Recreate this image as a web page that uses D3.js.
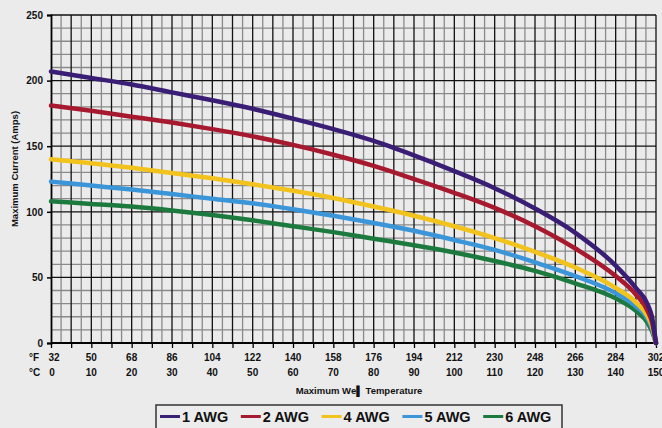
<!DOCTYPE html>
<html><head><meta charset="utf-8">
<script src="https://cdn.jsdelivr.net/npm/d3@7"></script>
<style>
html,body{margin:0;padding:0;background:#ebebeb;}
svg{display:block;font-family:"Liberation Sans",Arial,sans-serif;}
</style></head>
<body>
<svg id="c" width="662" height="428"></svg>
<script>
const tempC = [0,10,20,30,40,50,60,70,80,90,100,110,120,130,140,145,148,149,150];
const awg1 = [207,202,197,191,185,178.5,171,163,154,143,131,118,102.5,84,59,42,29,20,0];
const awg2 = [181,177,172.5,168,163,157.5,151,143.5,135,125,114.5,103,89,72,51,37,24,16,0];
const awg4 = [140,137,133.5,129.5,125.5,121,116,110.5,104,97,89,80,69.5,57.5,42,31,20,13,0];
const awg5 = [123,120,117,113.5,110,106.5,102,97,91.5,85.5,78.5,71,61.5,51,38,28,18,11,0];
const awg6 = [108,106,104,101,97.5,93.5,89,84.5,79.5,74.5,69,62.5,55,45.5,34,24.5,15,9,0];
const seriesNames = ["1 AWG","2 AWG","4 AWG","5 AWG","6 AWG"];
const seriesColors = ["#3a1d74","#a6192e","#f1c31c","#3b95d9","#1c7a3e"];
const fLabels = [32,50,68,86,104,122,140,158,176,194,212,230,248,266,284,302];
const cLabels = [0,10,20,30,40,50,60,70,80,90,100,110,120,130,140,150];
const yTicks = [0,50,100,150,200,250];

const svg = d3.select("#c");
const x = d3.scaleLinear().domain([0,150]).range([51,656]);
const y = d3.scaleLinear().domain([0,250]).range([343,15]);

const g = svg.append("g");
// minor grid
g.selectAll(".hmin").data(d3.range(0,251,10).filter(v=>v%50!==0)).join("line")
 .attr("x1",x(0)).attr("x2",x(150)).attr("y1",d=>y(d)).attr("y2",d=>y(d))
 .attr("stroke","#8a8a8a").attr("stroke-width",1.3);
g.selectAll(".vmin").data(d3.range(2.5,150,5)).join("line")
 .attr("x1",d=>x(d)).attr("x2",d=>x(d)).attr("y1",y(0)).attr("y2",y(250))
 .attr("stroke","#8a8a8a").attr("stroke-width",1.3);
// major grid
g.selectAll(".hmaj").data(yTicks).join("line")
 .attr("x1",x(0)).attr("x2",x(150)).attr("y1",d=>y(d)).attr("y2",d=>y(d))
 .attr("stroke","#111").attr("stroke-width",1.3);
g.selectAll(".vmaj").data(d3.range(5,151,5)).join("line")
 .attr("x1",d=>x(d)).attr("x2",d=>x(d)).attr("y1",y(0)).attr("y2",y(250))
 .attr("stroke","#111").attr("stroke-width",1.3);

// axes
const yAxis = d3.axisLeft(y).tickValues(yTicks).tickSize(4).tickPadding(4);
const ya = svg.append("g").attr("transform",`translate(${x(0)},0)`).call(yAxis);
ya.select(".domain").attr("stroke","#000").attr("stroke-width",1.8);
ya.selectAll(".tick line").attr("stroke","#000").attr("stroke-width",1.5);
ya.selectAll("text").attr("font-size",10).attr("font-weight","bold").attr("fill","#111");

const xAxis = d3.axisBottom(x).tickValues(d3.range(0,151,5)).tickSize(5).tickFormat("");
const xa = svg.append("g").attr("transform",`translate(0,${y(0)})`).call(xAxis);
xa.select(".domain").attr("stroke","#000").attr("stroke-width",2).attr("d",`M${x(0)},0H${x(150)}`);
xa.selectAll(".tick line").attr("stroke","#000").attr("stroke-width",1.3);

// tick labels rows
const lab = svg.append("g").attr("font-size",10).attr("font-weight","bold").attr("fill","#111");
lab.selectAll(".f").data(fLabels).join("text")
 .attr("x",(d,i)=>x(cLabels[i]) + (i===0?3:0)).attr("y",361).attr("text-anchor","middle").text(d=>d);
lab.selectAll(".c").data(cLabels).join("text")
 .attr("x",(d,i)=>x(d) + (i===0?1:0)).attr("y",376).attr("text-anchor","middle").text(d=>d);
lab.append("text").attr("x",29).attr("y",361).text("°F");
lab.append("text").attr("x",29).attr("y",376).text("°C");

svg.append("text").attr("x",359).attr("y",394).attr("text-anchor","middle")
 .attr("font-size",9.5).attr("font-weight","bold").attr("fill","#111").text("Maximum We\u258C Temperature");
svg.append("text").attr("transform","translate(18,169) rotate(-90)").attr("text-anchor","middle")
 .attr("font-size",9.5).attr("font-weight","bold").attr("fill","#111").text("Maximum Current (Amps)");

// lines
const allSeries = [awg1,awg2,awg4,awg5,awg6];
const line = d3.line().x((d,i)=>x(tempC[i])).y(d=>y(d)).curve(d3.curveMonotoneX);
svg.append("g").selectAll("path").data(allSeries.slice().reverse()).join("path")
 .attr("d",d=>line(d)).attr("fill","none")
 .attr("stroke",(d,i)=>seriesColors[seriesColors.length-1-i]).attr("stroke-width",4.5)
 .attr("stroke-linecap","round");

// legend
const lg = svg.append("g");
lg.append("rect").attr("x",156).attr("y",405).attr("width",406).attr("height",26)
 .attr("fill","#ececec").attr("stroke","#333").attr("stroke-width",1.5);
const ent = lg.selectAll(".e").data(seriesNames).join("g")
 .attr("transform",(d,i)=>`translate(${160 + i*80.8},0)`);
ent.append("line").attr("x1",0).attr("x2",20).attr("y1",416.5).attr("y2",416.5)
 .attr("stroke",(d,i)=>seriesColors[i]).attr("stroke-width",3);
ent.append("text").attr("x",22).attr("y",422).attr("font-size",14.5).attr("font-weight","bold")
 .attr("fill","#111").text(d=>d);
</script>
</body></html>
